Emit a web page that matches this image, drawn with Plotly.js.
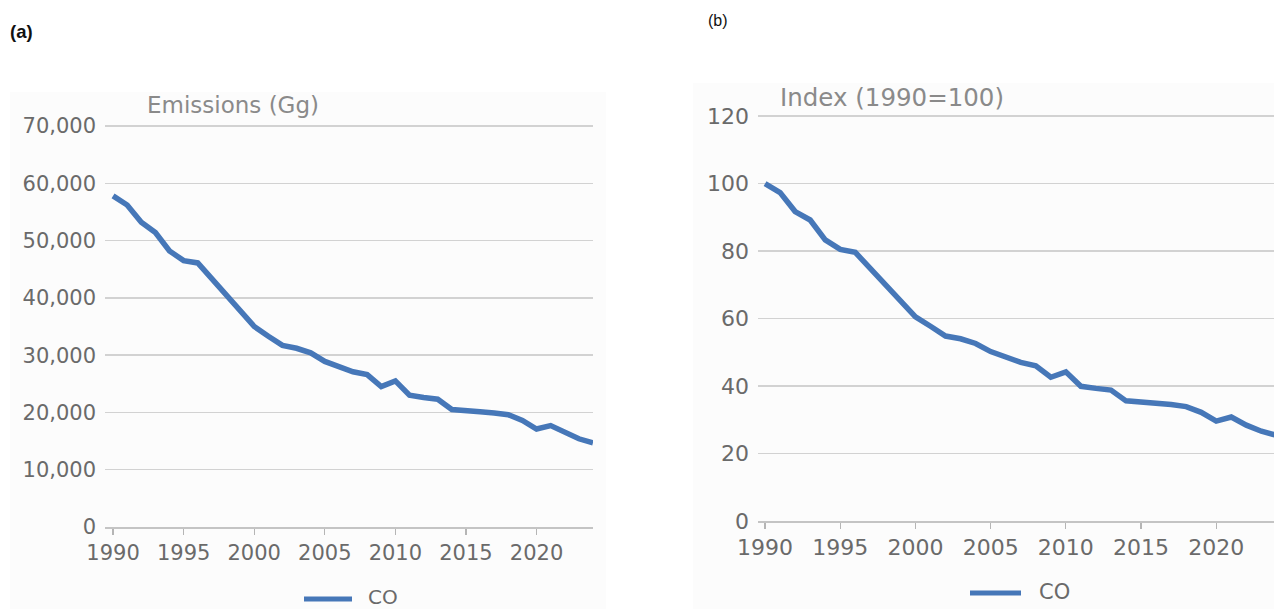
<!DOCTYPE html>
<html>
<head>
<meta charset="utf-8">
<script src="https://cdn.plot.ly/plotly-3.0.1.min.js"></script>
<style>
  html, body { margin: 0; padding: 0; background: #ffffff; }
  #chart { width: 1274px; height: 609px; }
</style>
</head>
<body>
<div id="chart"></div>
<script>
// ---- Data ----
const years = [1990,1991,1992,1993,1994,1995,1996,1997,1998,1999,
               2000,2001,2002,2003,2004,2005,2006,2007,2008,2009,
               2010,2011,2012,2013,2014,2015,2016,2017,2018,2019,
               2020,2021,2022,2023,2024];
const emissionsGg = [57800,56200,53200,51400,48200,46500,46100,43300,40600,38000,
                     35000,33300,31700,31200,30400,28900,28000,27100,26600,24500,
                     25500,23000,22600,22300,20500,20400,20100,19900,19600,18600,
                     17100,17700,16500,15400,14700];
const indexValues = [100,97.3,91.7,89.2,83.3,80.5,79.6,74.9,70.2,65.7,
                     60.5,57.7,54.8,54.0,52.6,50.2,48.6,47.0,46.0,42.6,
                     44.2,39.9,39.3,38.8,35.6,35.3,34.8,34.5,33.9,32.2,
                     29.6,30.8,28.4,26.6,25.4];
const seriesName = "CO";
const xTickVals = [1990,1995,2000,2005,2010,2015,2020];
const leftYTicks = [0,10000,20000,30000,40000,50000,60000,70000];
const rightYTicks = [0,20,40,60,80,100,120];
const leftTitle = "Emissions (Gg)";
const rightTitle = "Index (1990=100)";
const panelLabels = ["(a)", "(b)"];

// ---- Styling ----
const W = 1274, H = 609;
const px = x => x / W;
const py = y => (H - y) / H;
const lineColor = "#4677b8";
const gridColor = "#d2d2d2";
const tickFontColor = "#6a6a6a";
const titleColor = "#8a8a8a";
const font = "DejaVu Sans, Verdana, sans-serif";

const traces = [
  { x: years, y: emissionsGg, type: "scatter", mode: "lines", name: seriesName,
    xaxis: "x", yaxis: "y", line: { color: lineColor, width: 5.5 }, showlegend: false },
  { x: years, y: indexValues, type: "scatter", mode: "lines", name: seriesName,
    xaxis: "x2", yaxis: "y2", line: { color: lineColor, width: 5.5 }, showlegend: false }
];

const xCommon = (size) => ({
  tickvals: xTickVals, ticks: "outside", ticklen: 6, tickwidth: 1.2, tickcolor: "#b5b5b5",
  showline: true, linecolor: "#c4c4c4", linewidth: 1.5, showgrid: false, zeroline: false,
  tickfont: { family: font, size: size, color: tickFontColor }, fixedrange: true
});
const yCommon = (size) => ({
  showgrid: true, gridcolor: gridColor, gridwidth: 1.5, zeroline: false, ticks: "",
  showline: false, tickfont: { family: font, size: size, color: tickFontColor },
  ticklabelstandoff: 8, fixedrange: true
});

const layout = {
  width: W, height: H,
  margin: { l: 0, r: 0, t: 0, b: 0 },
  paper_bgcolor: "#ffffff",
  plot_bgcolor: "rgba(0,0,0,0)",
  showlegend: false,
  xaxis: Object.assign(xCommon(21), { domain: [px(105), px(593)], range: [1989.43, 2024], anchor: "y" }),
  yaxis: Object.assign(yCommon(21), { domain: [py(527), py(122)], range: [0, 70700], tickvals: leftYTicks,
                                      tickformat: ",", anchor: "x" }),
  xaxis2: Object.assign(xCommon(22), { domain: [px(758), 1], range: [1989.53, 2023.84], anchor: "y2" }),
  yaxis2: Object.assign(yCommon(22), { domain: [py(521), py(112)], range: [0, 121.2], tickvals: rightYTicks, anchor: "x2" }),
  shapes: [
    { type: "rect", xref: "paper", yref: "paper", x0: px(10), x1: px(606), y0: 0, y1: py(92),
      fillcolor: "#fcfcfc", line: { width: 0 }, layer: "below" },
    { type: "rect", xref: "paper", yref: "paper", x0: px(693), x1: 1, y0: 0, y1: py(83),
      fillcolor: "#fcfcfc", line: { width: 0 }, layer: "below" },
    { type: "line", xref: "paper", yref: "paper", x0: px(304), x1: px(352), y0: py(599), y1: py(599),
      line: { color: lineColor, width: 5 } },
    { type: "line", xref: "paper", yref: "paper", x0: px(970), x1: px(1021), y0: py(593), y1: py(593),
      line: { color: lineColor, width: 5 } }
  ],
  annotations: [
    { text: "<b>" + panelLabels[0] + "</b>", xref: "paper", yref: "paper", x: px(8), y: py(31),
      xanchor: "left", yanchor: "middle", showarrow: false,
      font: { family: "Liberation Sans, Arial, sans-serif", size: 18.5, color: "#111" } },
    { text: panelLabels[1], xref: "paper", yref: "paper", x: px(706), y: py(21),
      xanchor: "left", yanchor: "middle", showarrow: false,
      font: { family: "Liberation Sans, Arial, sans-serif", size: 16, color: "#111" } },
    { text: leftTitle, xref: "paper", yref: "paper", x: px(145), y: py(105),
      xanchor: "left", yanchor: "middle", showarrow: false,
      font: { family: font, size: 23, color: titleColor } },
    { text: rightTitle, xref: "paper", yref: "paper", x: px(778), y: py(97),
      xanchor: "left", yanchor: "middle", showarrow: false,
      font: { family: font, size: 24.5, color: titleColor } },
    { text: seriesName, xref: "paper", yref: "paper", x: px(366), y: py(597),
      xanchor: "left", yanchor: "middle", showarrow: false,
      font: { family: font, size: 20, color: tickFontColor } },
    { text: seriesName, xref: "paper", yref: "paper", x: px(1037), y: py(592),
      xanchor: "left", yanchor: "middle", showarrow: false,
      font: { family: font, size: 21, color: tickFontColor } }
  ]
};

Plotly.newPlot("chart", traces, layout, { displayModeBar: false, staticPlot: true });
</script>
</body>
</html>
